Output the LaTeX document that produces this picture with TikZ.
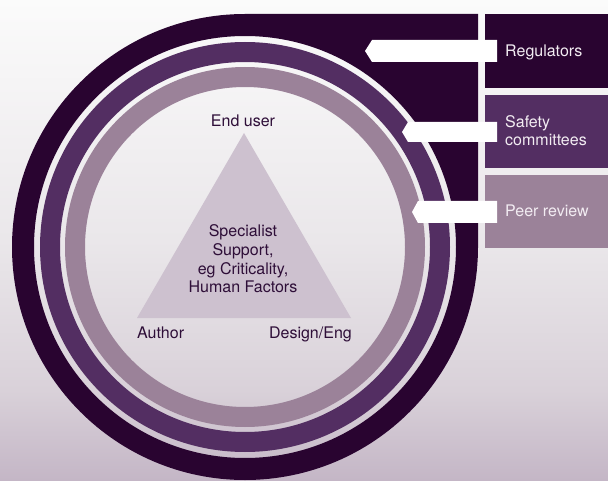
\documentclass[tikz,border=0pt]{standalone}
\usepackage{fontspec}
\setmainfont{TeX Gyre Heros}
\definecolor{dk}{HTML}{290430}
\definecolor{md}{HTML}{532E62}
\definecolor{lt}{HTML}{9B8299}
\definecolor{tri}{HTML}{CDC1CF}
\definecolor{ink}{HTML}{2E0E38}
\definecolor{boxink}{HTML}{F2ECF2}
\definecolor{bgtop}{HTML}{FBFBFB}
\definecolor{bgmid}{HTML}{EAE7EA}
\definecolor{bglow}{HTML}{D9D1D9}
\definecolor{bgbot}{HTML}{C4B6C6}
\pgfdeclareverticalshading{bgshade}{100bp}{color(0bp)=(bgbot); color(25bp)=(bgbot); color(34.375bp)=(bglow); color(50bp)=(bgmid); color(75bp)=(bgtop); color(100bp)=(bgtop)}
\tikzset{
  lbl/.style={font=\fontsize{16}{18.7}\selectfont, text=ink, inner sep=0pt},
  boxtxt/.style={font=\fontsize{16}{18.5}\selectfont, text=boxink, inner sep=0pt, anchor=base west},
  arrowshape/.style={fill=white}
}
\begin{document}
\begin{tikzpicture}[x=1pt,y=1pt]
\useasboundingbox (0,0) rectangle (608,480);
\shade[shading=bgshade] (0,0) rectangle (608,480);
\coordinate (C) at (245,233);
% dark outer ring merged with rectangle
\fill[dk, even odd rule] (245,466) arc[start angle=90, end angle=360, radius=233] -- (478,466) -- cycle
  (C) circle[radius=211];
% middle ring
\fill[md, even odd rule] (C) circle[radius=205] (C) circle[radius=185];
% light ring
\fill[lt, even odd rule] (C) circle[radius=180] (C) circle[radius=160];
% triangle
\fill[tri] (137,162) -- (351,162) -- (244,347) -- cycle;
% right boxes
\fill[dk] (485,392) rectangle (608,466);
\fill[md] (485,312) rectangle (608,385);
\fill[lt] (485,232) rectangle (608,305);
% arrows
\fill[arrowshape] (372,440) -- (497,440) -- (497,418) -- (372,418) -- (365,429) -- cycle;
\fill[arrowshape] (408,358) -- (497,358) -- (497,338) -- (408,338) -- (402,348) -- cycle;
\fill[arrowshape] (418,279) -- (497,279) -- (497,257) -- (418,257) -- (412,268) -- cycle;
% box texts
\node[boxtxt] (reg) at (505,423) {Regulators};
\node[boxtxt] (saf1) at (505,352) {Safety};
\node[boxtxt] (saf2) at (505,334) {committees};
\node[boxtxt] (peer) at (505,263) {Peer review};
% triangle labels
\node[lbl, anchor=base] (end) at (243,353) {End user};
\node[lbl, anchor=base west] (author) at (137,142) {Author};
\node[lbl, anchor=base east] (design) at (352,142) {Design/Eng};
\node[lbl, align=center, anchor=center] (spec) at (243,221) {Specialist\\Support,\\eg Criticality,\\Human Factors};
\end{tikzpicture}
\end{document}
